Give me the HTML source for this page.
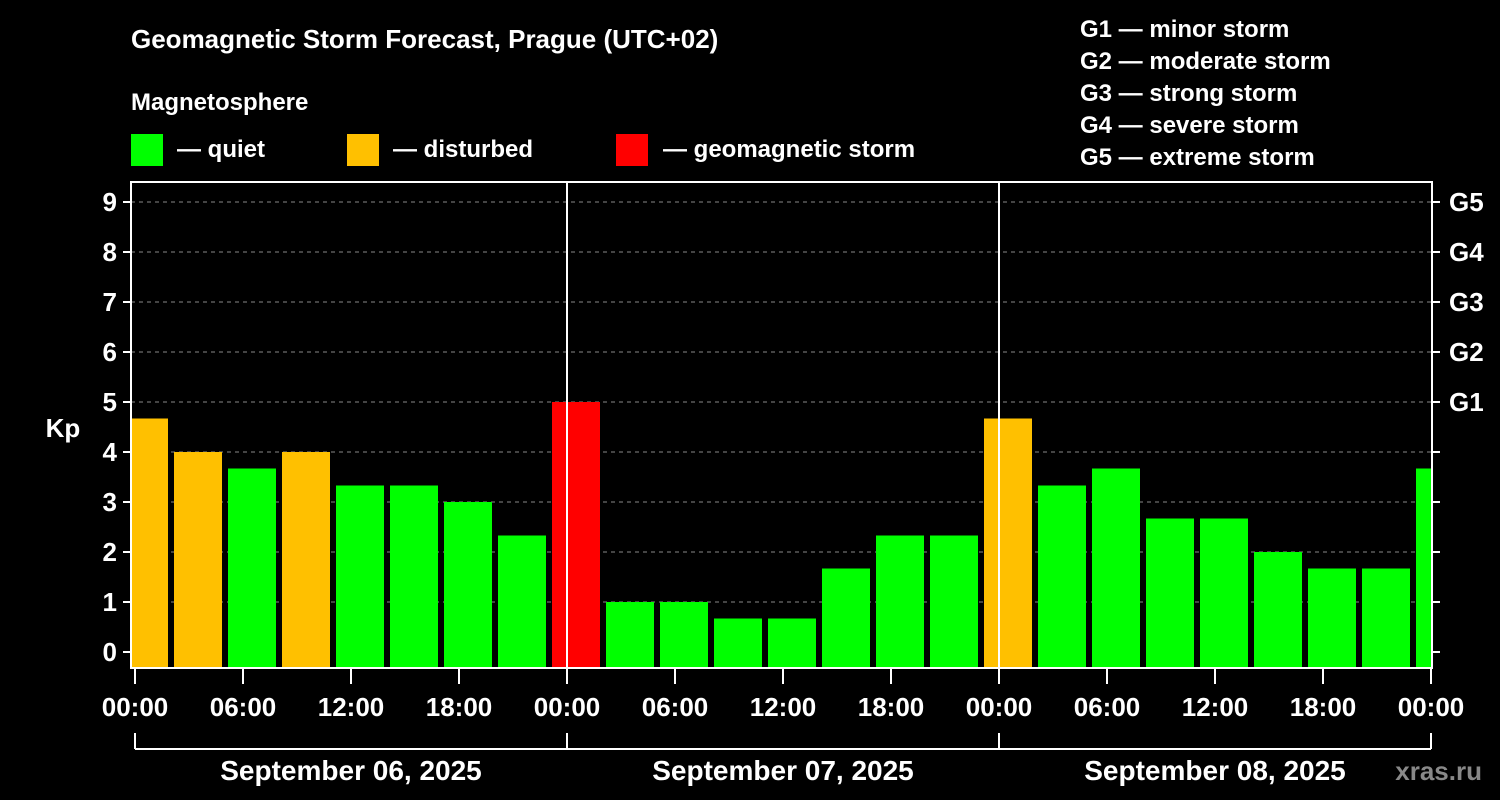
<!DOCTYPE html>
<html><head><meta charset="utf-8"><style>
html,body{margin:0;padding:0;background:#000;}
svg{display:block;font-family:"Liberation Sans",Arial,sans-serif;font-weight:bold;}
</style></head><body>
<svg id="chart" width="1500" height="800" viewBox="0 0 1500 800">
<rect width="1500" height="800" fill="#000"/>
<text x="131" y="48" fill="#fff" font-size="26">Geomagnetic Storm Forecast, Prague (UTC+02)</text>
<text x="131" y="110" fill="#fff" font-size="24">Magnetosphere</text>
<g><rect x="131" y="134" width="32" height="32" fill="#00ff00"/><text x="177" y="157" fill="#fff" font-size="24">— quiet</text></g>
<g><rect x="347" y="134" width="32" height="32" fill="#ffc000"/><text x="393" y="157" fill="#fff" font-size="24">— disturbed</text></g>
<g><rect x="616" y="134" width="32" height="32" fill="#ff0000"/><text x="663" y="157" fill="#fff" font-size="24">— geomagnetic storm</text></g>
<g fill="#fff" font-size="24">
<text x="1080" y="37">G1 — minor storm</text>
<text x="1080" y="69">G2 — moderate storm</text>
<text x="1080" y="101">G3 — strong storm</text>
<text x="1080" y="133">G4 — severe storm</text>
<text x="1080" y="165">G5 — extreme storm</text>
</g>
<text x="63" y="437" fill="#fff" font-size="26" text-anchor="middle">Kp</text>
<g id="grid"></g><g id="bars"></g><g id="axes"></g>
<text x="1482" y="780" fill="#888" font-size="26" text-anchor="end">xras.ru</text>
</svg>
<script>
const dayLabels = ["September 06, 2025","September 07, 2025","September 08, 2025"];
const kpValues = [4.67,4,3.67,4,3.33,3.33,3,2.33, 5,1,1,0.67,0.67,1.67,2.33,2.33, 4.67,3.33,3.67,2.67,2.67,2,1.67,1.67, 3.67];
const kpTicks = [0,1,2,3,4,5,6,7,8,9];
const gLabels = ["G1","G2","G3","G4","G5"];
const timeLabels = ["00:00","06:00","12:00","18:00"];

const NS="http://www.w3.org/2000/svg";
const L=131,R=1432,T=182,B=668;
const x=h=>135+18*h;
const y=k=>652-50*k;
function mk(tag,attrs,parent){const e=document.createElementNS(NS,tag);for(const k in attrs)e.setAttribute(k,attrs[k]);parent.appendChild(e);return e;}
const grid=document.getElementById('grid'),bars=document.getElementById('bars'),axes=document.getElementById('axes');
const defs=mk('defs',{},document.getElementById('chart'));
const cp=mk('clipPath',{id:'pc'},defs);mk('rect',{x:L+1,y:T,width:R-L-2,height:B-T},cp);
bars.setAttribute('clip-path','url(#pc)');
kpTicks.forEach(k=>{
  if(k>0){const g=mk('line',{x1:L,x2:R,y1:y(k),y2:y(k),stroke:'#888','stroke-dasharray':'4,4','stroke-width':1},grid);
  }
  mk('line',{x1:L-8,x2:L,y1:y(k),y2:y(k),stroke:'#fff','stroke-width':2},axes);
  mk('line',{x1:R,x2:R+8,y1:y(k),y2:y(k),stroke:'#fff','stroke-width':2},axes);
  const t=mk('text',{x:L-14,y:y(k)+9,fill:'#fff','font-size':26,'text-anchor':'end'},axes);t.textContent=k;
  
});
gLabels.forEach((g,i)=>{const t=mk('text',{x:R+17,y:y(5+i)+9,fill:'#fff','font-size':26},axes);t.textContent=g;
  });
kpValues.forEach((v,i)=>{
  const c=v>=5?'#ff0000':(v>=4?'#ffc000':'#00ff00');
  const cx=x(i*3+0.5);
  const r=mk('rect',{x:cx-24,y:y(v),width:48,height:B-y(v),fill:c},bars);
  
});
mk('rect',{x:L,y:T,width:R-L,height:B-T,fill:'none',stroke:'#fff','stroke-width':2},axes);
dayLabels.forEach((d,i)=>{
  if(i>0)mk('line',{x1:x(24*i),x2:x(24*i),y1:T,y2:B,stroke:'#fff','stroke-width':2},axes);
  timeLabels.forEach((tl,j)=>{const h=24*i+6*j;
    mk('line',{x1:x(h),x2:x(h),y1:B,y2:B+16,stroke:'#fff','stroke-width':2},axes);
    const t=mk('text',{x:x(h),y:716,fill:'#fff','font-size':26,'text-anchor':'middle'},axes);t.textContent=tl;
    });
  mk('line',{x1:x(24*i),x2:x(24*i),y1:733,y2:749,stroke:'#fff','stroke-width':2},axes);
  const dt=mk('text',{x:x(24*i+12),y:780,fill:'#fff','font-size':28,'text-anchor':'middle'},axes);dt.textContent=d;
  
});
mk('line',{x1:x(72),x2:x(72),y1:B,y2:B+16,stroke:'#fff','stroke-width':2},axes);
const te=mk('text',{x:x(72),y:716,fill:'#fff','font-size':26,'text-anchor':'middle'},axes);te.textContent="00:00";

mk('line',{x1:x(72),x2:x(72),y1:733,y2:749,stroke:'#fff','stroke-width':2},axes);
mk('line',{x1:x(0),x2:x(72),y1:749,y2:749,stroke:'#fff','stroke-width':2},axes);
</script>
</body></html>
